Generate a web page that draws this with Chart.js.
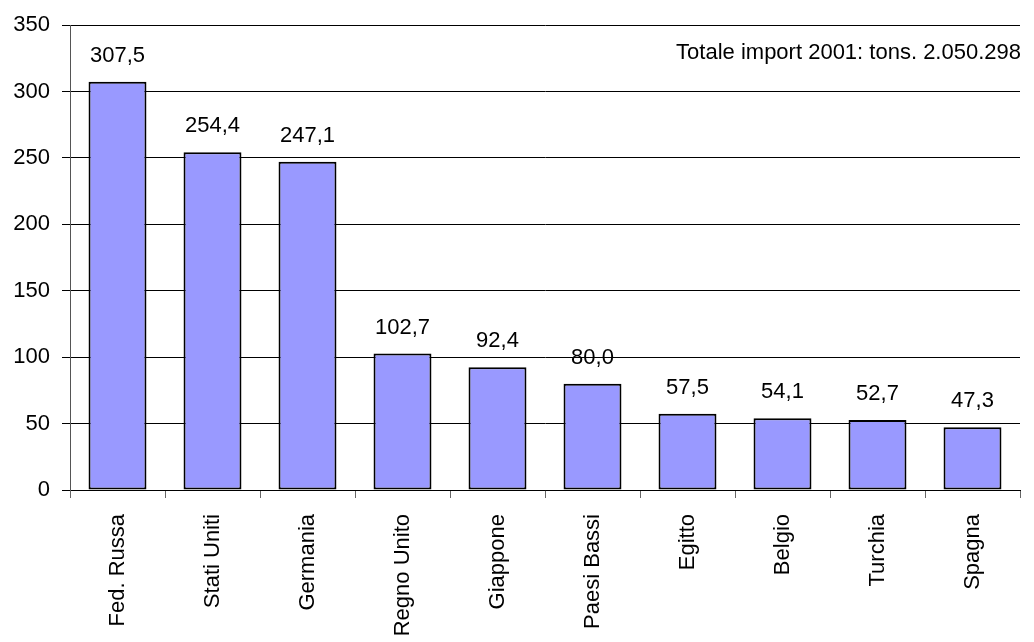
<!DOCTYPE html>
<html>
<head>
<meta charset="utf-8">
<script src="https://cdn.jsdelivr.net/npm/chart.js@4/dist/chart.umd.min.js"></script>
<style>
  html, body { margin: 0; padding: 0; background: #fff; }
  #wrap { width: 1034px; height: 642px; }
</style>
</head>
<body>
<div id="wrap"><canvas id="myChart" width="1034" height="642"></canvas></div>
<script>
var paesi = ['Fed. Russa', 'Stati Uniti', 'Germania', 'Regno Unito', 'Giappone',
             'Paesi Bassi', 'Egitto', 'Belgio', 'Turchia', 'Spagna'];
var valori = [307.5, 254.4, 247.1, 102.7, 92.4, 80.0, 57.5, 54.1, 52.7, 47.3];
var yTicks = [0, 50, 100, 150, 200, 250, 300, 350];
var nota = 'Totale import 2001: tons. 2.050.298';

var FONT = 'Arial, "Liberation Sans", sans-serif';

// etichette sopra le barre + nota in alto a destra
var etichette = {
    id: 'etichette',
    afterDatasetsDraw: function (chart) {
        var ctx = chart.ctx;
        var meta = chart.getDatasetMeta(0);
        ctx.save();
        ctx.font = '22px ' + FONT;
        ctx.fillStyle = '#000';
        ctx.textAlign = 'center';
        ctx.textBaseline = 'middle';
        meta.data.forEach(function (bar, i) {
            ctx.fillText(valori[i].toFixed(1).replace('.', ','), bar.x, bar.y - 26);
        });
        ctx.textAlign = 'right';
        ctx.fillText(nota, chart.chartArea.right + 1, 53);
        ctx.restore();
    }
};

var ctx = document.getElementById('myChart').getContext('2d');
var myChart = new Chart(ctx, {
    type: 'bar',
    data: {
        labels: paesi,
        datasets: [{
            data: valori,
            backgroundColor: '#9999ff',
            borderColor: '#000',
            borderWidth: 2,
            borderSkipped: false,
            categoryPercentage: 1,
            barPercentage: 0.61
        }]
    },
    options: {
        responsive: false,
        animation: false,
        layout: { padding: { top: 18, right: 14, left: 0, bottom: 0 } },
        plugins: {
            legend: { display: false },
            tooltip: { enabled: false }
        },
        scales: {
            x: {
                afterFit: function (s) { s.height = 152; },
                grid: {
                    offset: true,
                    drawOnChartArea: false,
                    drawTicks: true,
                    tickLength: 8,
                    color: '#666'
                },
                border: { display: true, color: '#000', width: 1 },
                ticks: {
                    color: '#000',
                    font: { family: FONT, size: 22 },
                    minRotation: 90,
                    maxRotation: 90,
                    padding: 16,
                    autoSkip: false
                }
            },
            y: {
                min: 0,
                max: 350,
                afterFit: function (s) { s.width = 70; },
                afterBuildTicks: function (s) {
                    s.ticks = yTicks.map(function (v) { return { value: v }; });
                },
                grid: {
                    color: '#000',
                    lineWidth: 1,
                    drawTicks: true,
                    tickLength: 8
                },
                border: { display: true, color: '#555', width: 1 },
                ticks: {
                    color: '#000',
                    font: { family: FONT, size: 22 },
                    padding: 12
                }
            }
        }
    },
    plugins: [etichette]
});
</script>
</body>
</html>
